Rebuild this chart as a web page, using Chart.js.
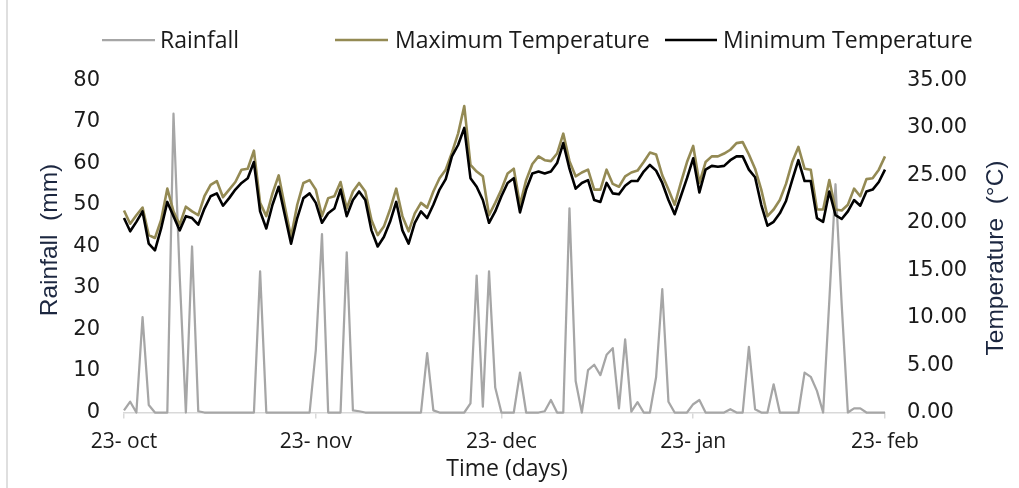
<!DOCTYPE html>
<html><head><meta charset="utf-8">
<script src="https://cdn.jsdelivr.net/npm/chart.js@4.4.1/dist/chart.umd.min.js"></script>
<style>html,body{margin:0;padding:0;background:#fff;}canvas{display:block;}</style>
</head><body><canvas id="c" width="1019" height="488"></canvas>
<script>
// Daily series, 23 Oct -> 23 Feb (124 days)
const rainfall = [
  0.5, 2.6, 0, 23, 1.8, 0, 0, 0, 72, 33,
  0, 40, 0.3, 0, 0, 0, 0, 0, 0, 0,
  0, 0, 34, 0, 0, 0, 0, 0, 0, 0,
  0, 15, 43, 0, 0, 0, 38.6, 0.5, 0.3, 0,
  0, 0, 0, 0, 0, 0, 0, 0, 0, 14.3,
  0.5, 0, 0, 0, 0, 0, 2.2, 33, 1.4, 34,
  6, 0, 0, 0, 9.6, 0, 0, 0, 0.3, 3,
  0, 0, 49.2, 7.6, 0, 10.2, 11.5, 9, 13.9, 15.5,
  1, 17.6, 0.2, 2.5, 0, 0, 8.5, 29.7, 2.6, 0,
  0, 0, 2, 3, 0, 0, 0, 0, 0.8, 0,
  0, 15.8, 0.8, 0, 0, 6.8, 0, 0, 0, 0,
  9.6, 8.6, 5.2, 0, 27, 55, 26, 0, 1, 1,
  0, 0, 0, 0
];
const maxTemp = [
  21.3, 19.9, 20.8, 21.6, 18.7, 18.4, 20.3, 23.6, 21.2, 19.8,
  21.7, 21.2, 20.8, 22.8, 24.0, 24.4, 22.7, 23.5, 24.3, 25.6,
  25.7, 27.6, 22.1, 20.7, 23.1, 25.0, 21.7, 18.5, 21.9, 24.2,
  24.5, 23.5, 20.7, 22.6, 22.8, 24.3, 21.5, 23.3, 24.2, 23.3,
  20.3, 18.7, 19.6, 21.4, 23.6, 20.7, 19.1, 21.0, 22.1, 21.6,
  23.3, 24.7, 25.6, 27.4, 29.4, 32.3, 26.1, 25.4, 24.9, 20.8,
  22.1, 23.5, 25.2, 25.7, 21.9, 24.5, 26.2, 27.0, 26.6, 26.5,
  27.3, 29.4, 26.5, 24.9, 25.3, 25.6, 23.5, 23.5, 25.6, 24.1,
  23.8, 24.9, 25.3, 25.5, 26.4, 27.4, 27.2, 25.0, 23.5, 21.9,
  24.2, 26.4, 28.1, 24.2, 26.4, 27.0, 27.0, 27.3, 27.7, 28.4,
  28.5, 27.2, 25.7, 23.5, 20.7, 21.4, 22.4, 24.1, 26.4, 28.0,
  25.7, 25.6, 21.4, 21.4, 24.5, 21.4, 21.3, 21.9, 23.6, 22.8,
  24.6, 24.7, 25.6, 27.0
];
const minTemp = [
  20.5, 19.1, 20.1, 21.2, 17.8, 17.1, 19.4, 22.2, 20.7, 19.2,
  20.7, 20.5, 19.8, 21.5, 22.8, 23.1, 21.8, 22.6, 23.5, 24.2,
  24.7, 26.4, 21.2, 19.4, 21.9, 23.8, 20.8, 17.8, 20.5, 22.6,
  23.1, 22.1, 20.0, 21.0, 21.5, 23.5, 20.7, 22.4, 23.3, 22.4,
  19.2, 17.5, 18.5, 20.1, 22.2, 19.2, 17.8, 20.0, 21.2, 20.5,
  21.9, 23.5, 24.6, 27.0, 28.2, 30.0, 24.7, 23.8, 22.4, 20.0,
  21.2, 22.8, 24.2, 24.7, 21.1, 23.5, 25.2, 25.4, 25.2, 25.4,
  26.3, 28.4, 25.7, 23.6, 24.2, 24.5, 22.4, 22.2, 24.2, 23.1,
  23.0, 23.9, 24.4, 24.4, 25.4, 26.1, 25.5, 24.2, 22.4, 20.9,
  22.8, 24.7, 26.8, 23.2, 25.6, 26.0, 25.9, 26.0, 26.6, 27.0,
  27.0, 25.6, 24.8, 21.9, 19.7, 20.1, 21.0, 22.3, 24.5, 26.6,
  24.4, 24.4, 20.5, 20.1, 23.3, 20.8, 20.4, 21.2, 22.4, 21.8,
  23.3, 23.5, 24.3, 25.6
];
const tickDays = [0, 31, 61, 92, 123];
const tickLabels = ['23- oct', '23- nov', '23- dec', '23- jan', '23- feb'];
const seriesNames = ['Rainfall', 'Maximum Temperature', 'Minimum Temperature'];
const days = rainfall.map((_, i) => i); // day offset from 23 Oct

const toXY = arr => arr.map((v, i) => ({ x: days[i], y: v }));

const TXT = '#1a1a1a';
const TITLE = '#1c2740';

const decor = {
  id: 'decor',
  afterDraw(chart) {
    const ctx = chart.ctx;
    ctx.save();
    // outer frame edge
    ctx.strokeStyle = '#d4d4d4';
    ctx.lineWidth = 1.5;
    ctx.beginPath(); ctx.moveTo(7, 0); ctx.lineTo(7, 488); ctx.stroke();

    // legend
    const legendPos = [
      { x0: 102, x1: 155, tx: 160 },
      { x0: 335, x1: 388, tx: 395 },
      { x0: 665, x1: 717, tx: 723 }
    ];
    ctx.font = '23px "Open Sans"';
    ctx.textBaseline = 'middle';
    ctx.textAlign = 'left';
    chart.data.datasets.forEach((ds, i) => {
      const p = legendPos[i];
      ctx.strokeStyle = ds.borderColor;
      ctx.lineWidth = ds.borderWidth;
      ctx.beginPath(); ctx.moveTo(p.x0, 40); ctx.lineTo(p.x1, 40); ctx.stroke();
      ctx.fillStyle = TXT;
      ctx.fillText(ds.label, p.tx, 41);
    });

    // axis titles
    ctx.fillStyle = TITLE;
    ctx.font = '24.5px "Liberation Sans", Arial, sans-serif';
    ctx.textAlign = 'center';
    ctx.save();
    ctx.translate(50, 240); ctx.rotate(-Math.PI / 2);
    ctx.fillText('Rainfall  (mm)', 0, 0);
    ctx.restore();
    ctx.save();
    ctx.translate(996, 258); ctx.rotate(-Math.PI / 2);
    ctx.fillText('Temperature  (°C)', 0, 0);
    ctx.restore();

    ctx.fillStyle = TXT;
    ctx.font = '23px "Open Sans"';
    ctx.fillText('Time (days)', 507, 469);
    ctx.restore();
  }
};

new Chart(document.getElementById('c'), {
  type: 'line',
  data: {
    datasets: [
      { label: seriesNames[0], data: toXY(rainfall), yAxisID: 'y', borderColor: '#a6a6a6', borderWidth: 2.25, order: 3 },
      { label: seriesNames[1], data: toXY(maxTemp), yAxisID: 'y1', borderColor: '#948a54', borderWidth: 2.6, order: 2 },
      { label: seriesNames[2], data: toXY(minTemp), yAxisID: 'y1', borderColor: '#000000', borderWidth: 2.6, order: 1 }
    ]
  },
  options: {
    responsive: false,
    animation: false,
    devicePixelRatio: 1,
    datasets: { line: { tension: 0, pointRadius: 0, pointHoverRadius: 0, fill: false, clip: 8, borderJoinStyle: 'round' } },
    layout: { padding: { top: 80.5, left: 0, right: 0, bottom: 0 } },
    plugins: { legend: { display: false }, tooltip: { enabled: false }, title: { display: false } },
    scales: {
      x: {
        type: 'linear', position: 'bottom', min: 0, max: 123,
        afterBuildTicks: s => { s.ticks = tickDays.map(v => ({ value: v })); },
        afterFit: s => { s.height = 75.5; },
        ticks: {
          autoSkip: false, maxRotation: 0, minRotation: 0, padding: 11,
          callback: v => { const k = tickDays.indexOf(v); return k >= 0 ? tickLabels[k] : ''; },
          font: { family: 'Open Sans', size: 21 }, color: TXT
        },
        grid: { display: true, drawOnChartArea: false, drawTicks: true, tickLength: 6, color: '#d9d9d9', lineWidth: 1.5 },
        border: { display: true, color: '#d9d9d9', width: 1.5 }
      },
      y: {
        position: 'left', min: 0, max: 80,
        afterFit: s => { s.width = 124; },
        ticks: { stepSize: 10, padding: 24, font: { family: 'DejaVu Sans', size: 21 }, color: TXT },
        grid: { display: false, drawTicks: false },
        border: { display: false }
      },
      y1: {
        position: 'right', min: 0, max: 35,
        afterFit: s => { s.width = 134; },
        ticks: { stepSize: 5, padding: 22, callback: v => Number(v).toFixed(2), font: { family: 'DejaVu Sans', size: 21 }, color: TXT },
        grid: { display: false, drawTicks: false },
        border: { display: false }
      }
    }
  },
  plugins: [decor]
});
</script>
</body></html>
